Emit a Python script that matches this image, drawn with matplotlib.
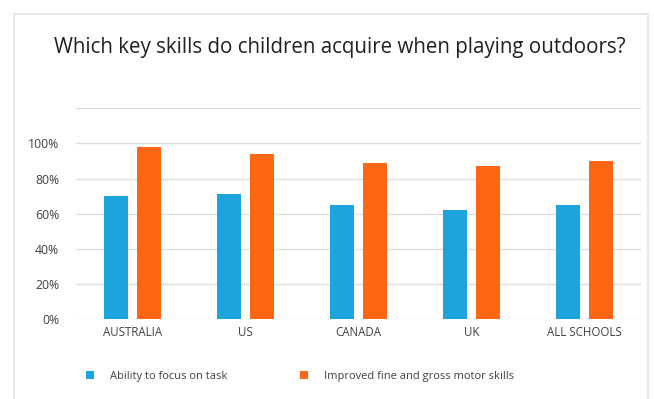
import matplotlib.pyplot as plt
import numpy as np
from matplotlib.patches import Rectangle

# Share of children gaining each skill, by country
countries = ["AUSTRALIA", "US", "CANADA", "UK", "ALL SCHOOLS"]
focus = [0.70, 0.71, 0.65, 0.62, 0.65]
motor = [0.98, 0.94, 0.89, 0.87, 0.90]
series_names = ["Ability to focus on task", "Improved fine and gross motor skills"]

BLUE = "#1DA3DE"
ORANGE = "#FF6614"
GRID = "#DDDDDD"
TEXT = "#404040"

plt.rcParams["font.family"] = ["Open Sans", "DejaVu Sans"]

fig = plt.figure(figsize=(6.54, 3.99), dpi=100)
ax = fig.add_axes([76 / 654, 0.1997, 565 / 654, 0.5289])

x = np.arange(len(countries))
w = 0.22
off = 0.146
b1 = ax.bar(x - off, focus, w, color=BLUE, label=series_names[0], zorder=3)
b2 = ax.bar(x + off, motor, w, color=ORANGE, label=series_names[1], zorder=3)

ax.set_xlim(-0.5, len(countries) - 0.5)
ax.set_ylim(0, 1.2)
yt = np.arange(0, 1.21, 0.2)
ax.set_yticks(yt)
ax.set_yticklabels([f"{int(round(v * 100))}%" if v < 1.1 else "" for v in yt])
ax.yaxis.grid(True, color=GRID, linewidth=1, zorder=0)
ax.set_xticks(x)
ax.set_xticklabels(countries)
ax.tick_params(axis="both", length=0, colors=TEXT)
ax.tick_params(axis="x", labelsize=8.3, pad=5)
ax.tick_params(axis="y", labelsize=8.8, pad=12)
for s in ax.spines.values():
    s.set_visible(False)

fig.text(0.52, 0.882, "Which key skills do children acquire when playing outdoors?",
         ha="center", va="center", fontsize=14.8, color="#202020")

fig.legend(handles=[b1, b2], labels=series_names, loc="center left",
           bbox_to_anchor=(76 / 654, 1 - 376 / 399), ncol=2, frameon=False,
           fontsize=8, handlelength=0.7, handleheight=0.7, handletextpad=1.5,
           columnspacing=6.5, labelcolor=TEXT)

# light outer frame
fig.patches.append(Rectangle((14 / 654, -0.05), 634 / 654, 1.05 - 14 / 399,
                             transform=fig.transFigure, fill=False,
                             edgecolor="#E3E3E3", linewidth=1.2))

fig.savefig("out.png", dpi=100)
